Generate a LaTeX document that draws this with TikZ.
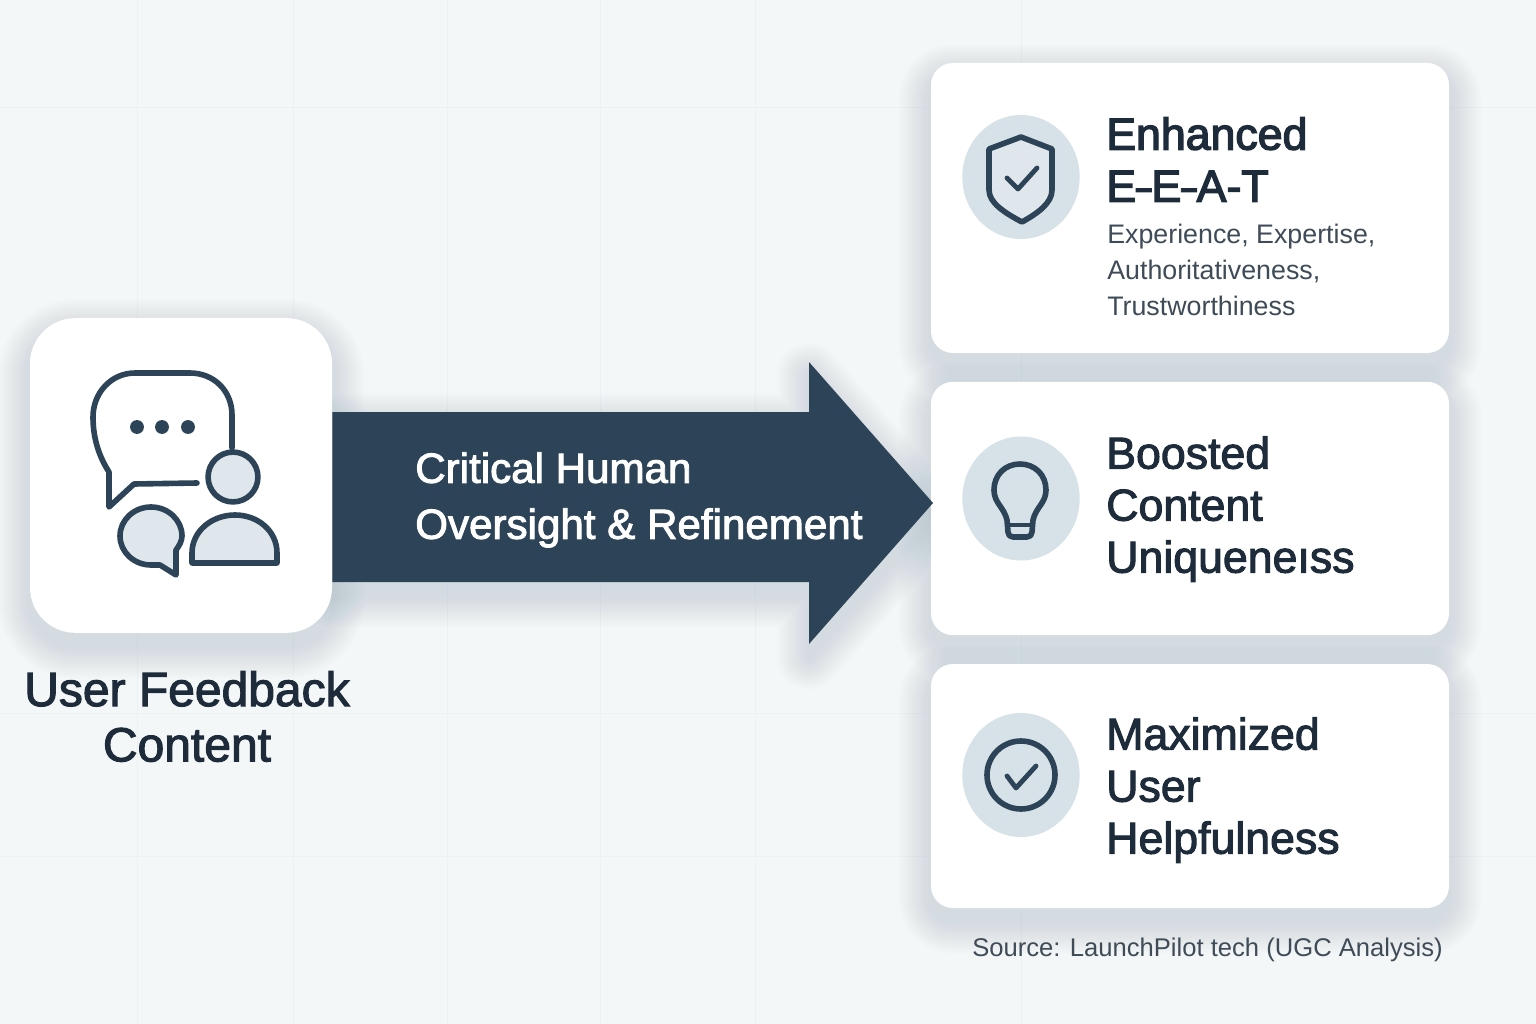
\documentclass[tikz,border=0pt]{standalone}
\usepackage{fontspec}
\setmainfont{Liberation Sans}
\newfontfamily\medfont[FakeBold=2.2]{Liberation Sans}
\newfontfamily\strongfont[FakeBold=3]{Liberation Sans}
\usetikzlibrary{positioning, calc, shapes.geometric, backgrounds}
\definecolor{PageBg}{HTML}{F4F7F8}
\definecolor{GridLine}{HTML}{EDF1F3}
\definecolor{InkDark}{HTML}{1D2B3A}
\definecolor{InkGrey}{HTML}{3F4C58}
\definecolor{ArrowBlue}{HTML}{2D4357}
\definecolor{IconFill}{HTML}{DFE7EC}
\definecolor{DiscBlue}{HTML}{D6E2E8}
\definecolor{ShadowBlue}{HTML}{8CA0AB}
\tikzstyle{Card} = [
fill=white, inner sep=0pt, rounded corners=16.5pt]
\tikzstyle{Disc} = [
ellipse, fill=DiscBlue, inner sep=0pt, minimum width=88pt, minimum height=93pt]
\tikzstyle{Title} = [
anchor=north west, align=left, inner sep=0pt, text=InkDark,
font=\medfont\fontsize{33.5}{39}\selectfont]
\tikzstyle{Detail} = [
anchor=north west, align=left, inner sep=0pt, text=InkGrey,
font=\fontsize{20.1}{27}\selectfont]
\tikzstyle{Icon} = [
draw=ArrowBlue, line width=4.2pt, line join=round, line cap=round]
\tikzstyle{Tick} = [
Icon, line width=3.6pt]
\newcommand{\softshadow}[1]{%
  \foreach \w in {3,6,...,48}{
    \begin{scope}[transparency group, opacity=0.014]
    \draw[draw=ShadowBlue, fill=ShadowBlue, line width=\w pt, line join=round] #1;
    \end{scope}
  }}
\newcommand{\shortdash}{\scalebox{0.62}[1]{–}}
\begin{document}
\begin{tikzpicture}[x=0.75pt, y=-0.75pt]
    \useasboundingbox (0,0) rectangle (1536,1024);

    \node [Card, rounded corners=34pt, minimum width=226.5pt, minimum height=236pt] (feedback) at (181,475.5) {};
    \node [Card, minimum width=388.5pt, minimum height=217.5pt] (eeat) at (1190,208) {};
    \node [Card, minimum width=388.5pt, minimum height=190pt] (boost) at (1190,508.5) {};
    \node [Card, minimum width=388.5pt, minimum height=183pt] (help) at (1190,786) {};

    \coordinate (oversighttip) at (933,503);
    \fill[ArrowBlue] (feedback.east |- 0,412) -- (809,412) -- (809,362) -- (oversighttip)
        -- (809,644) -- (809,582) -- (feedback.east |- 0,582) -- cycle;

    \node [anchor=north, align=center, inner sep=0pt, text=InkDark,
        font=\medfont\fontsize{36}{41.5}\selectfont] (feedbacklabel) at (187,671)
        {User Feedback\\Content};
    \node [anchor=north west, align=left, inner sep=0pt, text=white,
        font=\medfont\fontsize{31.6}{42}\selectfont] (oversightlabel) at (415,452)
        {Critical Human\\Oversight \& Refinement};

    \node [Disc] (eeatdisc) at (1021,177) {};
    \node [Disc] (boostdisc) at (1021,498.5) {};
    \node [Disc] (helpdisc) at (1021,775) {};

    \node [Title, font=\strongfont\fontsize{33.5}{39}\selectfont] (eeattitle) at (1106,117)
        {Enhanced\\E\shortdash E\shortdash A-T};
    \node [Detail] (eeatdetail) at (1107,224) {Experience, Expertise,\\Authoritativeness,\\Trustworthiness};
    \node [Title] (boosttitle) at (1106,436) {Boosted\\Content\\Uniqueneıss};
    \node [Title] (helptitle) at (1106,717) {Maximized\\User\\Helpfulness};
    \node [anchor=north east, inner sep=0pt, text=InkGrey,
        font=\fontsize{19.2}{24}\selectfont] (source) at (1443,938)
        {Source: LaunchPilot tech (UGC Analysis)};

    % speech bubbles and person
    \draw[Icon] (232,448) -- (232,415) .. controls (232,391) and (214,373) .. (190,373)
        -- (135,373) .. controls (111,373) and (93,393) .. (93,417)
        .. controls (93,440) and (100,458) .. (109,472) -- (109,507) -- (134,484) -- (197,483);
    \foreach \x in {137,162,188}
        \fill[ArrowBlue] (\x,427) circle (5.2pt);
    \draw[Icon, fill=IconFill] (233,477) circle (18.7pt);
    \draw[Icon, fill=IconFill] (192,563) -- (192,553) .. controls (192,531) and (212,515) .. (235,515)
        .. controls (258,515) and (277,531) .. (277,553) -- (277,563) -- cycle;
    \draw[Icon, fill=IconFill] (176,550) .. controls (179,546) and (182,541) .. (182,536)
        .. controls (182,520) and (168,507) .. (151,507) .. controls (134,507) and (120,520) .. (120,536)
        .. controls (120,552) and (134,565) .. (151,565) -- (160,565) -- (176,575) -- cycle;

    % shield
    \draw[Icon, fill=IconFill] (1021,137) -- (1052,149) -- (1052,190)
        .. controls (1052,203) and (1038,213) .. (1022,222)
        .. controls (1005,213) and (989,203) .. (989,190) -- (989,149) -- cycle;
    \draw[Tick] (1007,178) -- (1018,189) -- (1037,168);

    % bulb
    \draw[Icon] (1007,520) .. controls (1004,507) and (994,503) .. (994,490)
        .. controls (994,475) and (1005,464) .. (1020,464)
        .. controls (1035,464) and (1046,475) .. (1046,490)
        .. controls (1046,503) and (1036,507) .. (1033,520) -- (1032,532)
        .. controls (1032,535) and (1030,537) .. (1027,537) -- (1013,537)
        .. controls (1010,537) and (1008,535) .. (1008,532) -- cycle;
    \draw[Icon, line width=2.4pt] (1008,525) -- (1032,525);

    % check circle
    \draw[Icon] (1021,775) circle (25.5pt);
    \draw[Tick] (1007,776) -- (1016,788) -- (1036,766);

    \begin{pgfonlayer}{background}
        \fill[PageBg] (0,0) rectangle (1536,1024);
        \foreach \x in {137,293,447,600,755,1021}
            \draw[GridLine, line width=0.75pt] (\x,0) -- (\x,1024);
        \foreach \y in {108,713,856}
            \draw[GridLine, line width=0.75pt] (0,\y) -- (1536,\y);
        \begin{scope}[transform canvas={yshift=-10pt}]
            \softshadow{[rounded corners=34pt] (feedback.south west) rectangle (feedback.north east)}
            \softshadow{[rounded corners=16.5pt] (eeat.south west) rectangle (eeat.north east)}
            \softshadow{[rounded corners=16.5pt] (boost.south west) rectangle (boost.north east)}
            \softshadow{[rounded corners=16.5pt] (help.south west) rectangle (help.north east)}
            \softshadow{(feedback.east |- 0,412) -- (809,412) -- (809,362) -- (oversighttip) -- (809,644) -- (809,582) -- (feedback.east |- 0,582) -- cycle}
        \end{scope}
    \end{pgfonlayer}
\end{tikzpicture}
\end{document}
